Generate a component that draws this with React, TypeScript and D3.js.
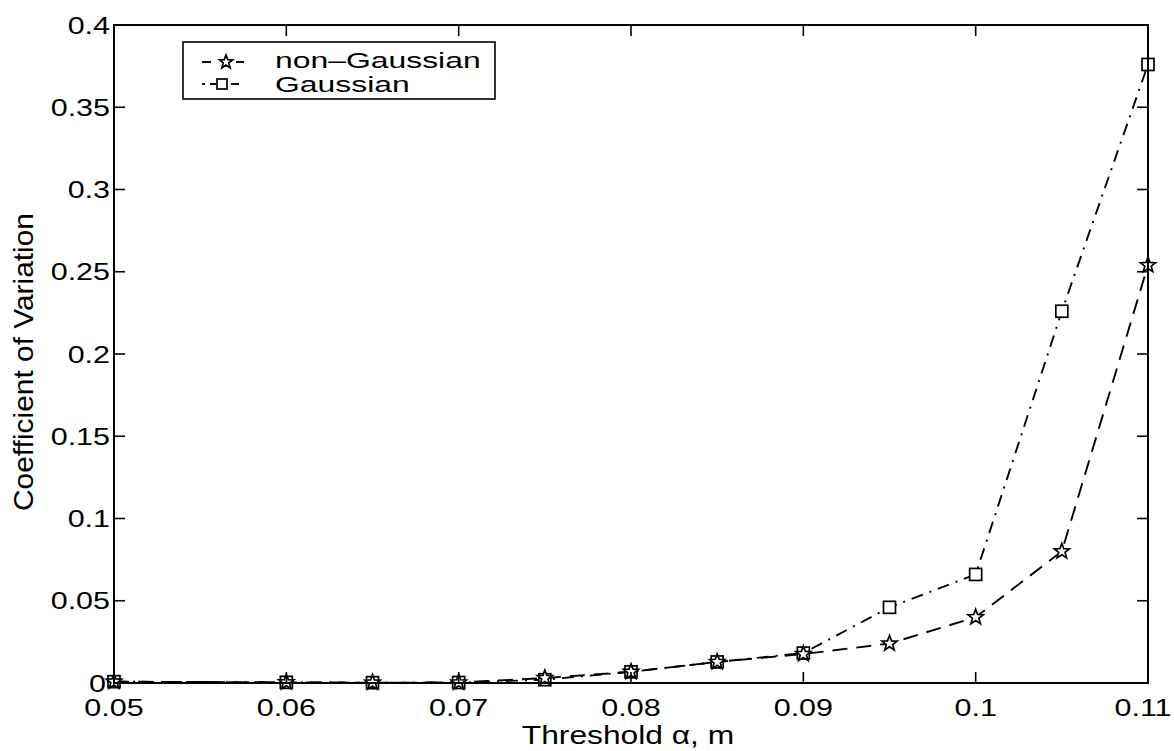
import React from "react";
import * as d3 from "d3";

const xTicks = [0.05, 0.06, 0.07, 0.08, 0.09, 0.1, 0.11];
const xTickLabels = ["0.05", "0.06", "0.07", "0.08", "0.09", "0.1", "0.11"];
const yTicks = [0, 0.05, 0.1, 0.15, 0.2, 0.25, 0.3, 0.35, 0.4];
const yTickLabels = ["0", "0.05", "0.1", "0.15", "0.2", "0.25", "0.3", "0.35", "0.4"];

const thresholds = [0.05, 0.06, 0.065, 0.07, 0.075, 0.08, 0.085, 0.09, 0.095, 0.1, 0.105, 0.11];
const nonGaussian = [0.0008, 0.0004, 0.0002, 0.0003, 0.003, 0.0068, 0.0128, 0.0176, 0.024, 0.040, 0.080, 0.254];
const gaussian = [0.0008, 0.0004, 0.0002, 0.0003, 0.002, 0.0068, 0.0128, 0.0182, 0.046, 0.066, 0.226, 0.376];

const seriesNames = ["non\u2013Gaussian", "Gaussian"];

const W = 1174;
const H = 751;

function Star({ cx, cy, r }: { cx: number; cy: number; r: number }) {
  const pts: [number, number][] = [];
  for (let i = 0; i < 10; i++) {
    const a = -Math.PI / 2 + (i * Math.PI) / 5;
    const rr = i % 2 === 0 ? r : r * 0.42;
    pts.push([cx + rr * Math.cos(a), cy + rr * Math.sin(a)]);
  }
  return (
    <polygon
      points={pts.map((p) => p.join(",")).join(" ")}
      fill="white"
      stroke="black"
      strokeWidth={1.7}
    />
  );
}

function Sq({ cx, cy, s }: { cx: number; cy: number; s: number }) {
  return (
    <rect x={cx - s / 2} y={cy - s / 2} width={s} height={s} fill="white" stroke="black" strokeWidth={1.7} />
  );
}

function WideText({
  x,
  y,
  sx,
  size,
  anchor,
  children,
}: {
  x: number;
  y: number;
  sx: number;
  size: number;
  anchor: "start" | "middle" | "end";
  children: React.ReactNode;
}) {
  return (
    <text transform={`translate(${x},${y}) scale(${sx},1)`} textAnchor={anchor} fontSize={size} fill="black">
      {children}
    </text>
  );
}

export default function App() {
  const x = d3.scaleLinear().domain([0.05, 0.11]).range([114, 1148]);
  const y = d3.scaleLinear().domain([0, 0.4]).range([683, 25]);
  const [x0, x1] = x.range();
  const [y0, y1] = y.range();

  const line = d3
    .line<[number, number]>()
    .x((d) => x(d[0]))
    .y((d) => y(d[1]));

  const ngData: [number, number][] = thresholds.map((t, i) => [t, nonGaussian[i]]);
  const gData: [number, number][] = thresholds.map((t, i) => [t, gaussian[i]]);

  const font = "'Liberation Sans', Arial, Helvetica, sans-serif";
  const tickLen = 11;
  const tickSize = 24;
  const stretch = 1.27;
  const maxLabelCenter = W - 31;

  return (
    <svg
      width={W}
      height={H}
      style={{ position: "absolute", left: 0, top: 0, background: "white" }}
      fontFamily={font}
    >
      <rect x={0} y={0} width={W} height={H} fill="white" />
      {/* data lines */}
      <path d={line(gData) || ""} fill="none" stroke="black" strokeWidth={1.9} strokeDasharray="12 7 2 7" />
      <path d={line(ngData) || ""} fill="none" stroke="black" strokeWidth={1.9} strokeDasharray="15 9" />
      {gData.map((d, i) => (
        <Sq key={"g" + i} cx={x(d[0])} cy={y(d[1])} s={12} />
      ))}
      {ngData.map((d, i) => (
        <Star key={"n" + i} cx={x(d[0])} cy={y(d[1])} r={8} />
      ))}

      {/* box */}
      <rect x={x0} y={y1} width={x1 - x0} height={y0 - y1} fill="none" stroke="black" strokeWidth={2} />

      {/* x ticks */}
      {xTicks.map((t, i) => (
        <g key={"xt" + i}>
          <line x1={x(t)} x2={x(t)} y1={y0} y2={y0 - tickLen} stroke="black" strokeWidth={1.6} />
          <line x1={x(t)} x2={x(t)} y1={y1} y2={y1 + tickLen} stroke="black" strokeWidth={1.6} />
          <WideText x={Math.min(x(t), maxLabelCenter)} y={716} sx={stretch} size={tickSize} anchor="middle">
            {xTickLabels[i]}
          </WideText>
        </g>
      ))}
      {/* y ticks */}
      {yTicks.map((t, i) => (
        <g key={"yt" + i}>
          <line x1={x0} x2={x0 + tickLen} y1={y(t)} y2={y(t)} stroke="black" strokeWidth={1.6} />
          <line x1={x1} x2={x1 - tickLen} y1={y(t)} y2={y(t)} stroke="black" strokeWidth={1.6} />
          <WideText x={t === 0 ? 106 : 110} y={y(t) + 8.5} sx={stretch} size={tickSize} anchor="end">
            {yTickLabels[i]}
          </WideText>
        </g>
      ))}

      {/* axis titles */}
      <WideText x={628} y={744} sx={1.27} size={25} anchor="middle">
        Threshold {"\u03B1"}, m
      </WideText>
      <text
        transform={`translate(33, 362) rotate(-90)`}
        textAnchor="middle"
        fontSize={28}
        textLength={298}
        lengthAdjust="spacingAndGlyphs"
        fill="black"
      >
        Coefficient of Variation
      </text>

      {/* legend */}
      <rect x={183} y={42} width={312} height={57} fill="white" stroke="black" strokeWidth={1.6} />
      <line x1={202} x2={211} y1={62} y2={62} stroke="black" strokeWidth={1.9} />
      <line x1={236} x2={244} y1={62} y2={62} stroke="black" strokeWidth={1.9} />
      <Star cx={226} cy={62} r={7} />
      <WideText x={275} y={68} sx={1.45} size={22} anchor="start">
        {seriesNames[0]}
      </WideText>
      <line x1={202} x2={205} y1={84} y2={84} stroke="black" strokeWidth={1.9} />
      <line x1={210} x2={216} y1={84} y2={84} stroke="black" strokeWidth={1.9} />
      <line x1={231} x2={239} y1={84} y2={84} stroke="black" strokeWidth={1.9} />
      <Sq cx={222} cy={84} s={10} />
      <WideText x={275} y={92} sx={1.45} size={22} anchor="start">
        {seriesNames[1]}
      </WideText>
    </svg>
  );
}
